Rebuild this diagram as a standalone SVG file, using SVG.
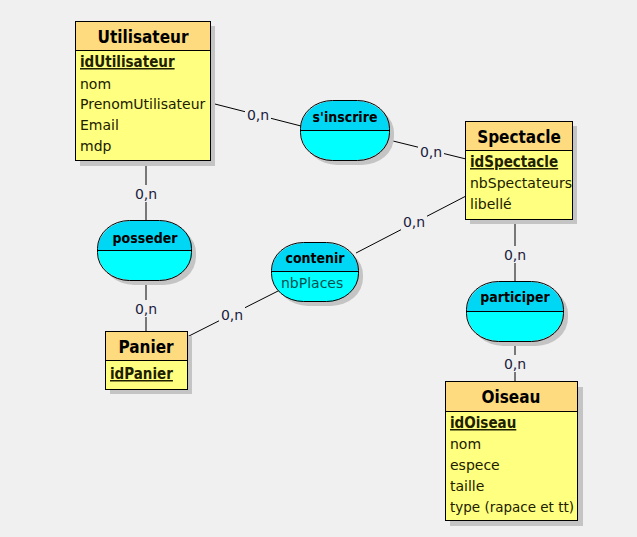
<svg xmlns="http://www.w3.org/2000/svg" width="637" height="537" viewBox="0 0 637 537">
<style>
.bg{fill:#f0f0f0}
.sh{fill:#c4c4c4}
.hd{fill:#ffdb80;stroke:#000;stroke-width:1}
.bd{fill:#ffff80;stroke:#000;stroke-width:1}
.ah{fill:#00d7f5}
.ab{fill:#00ffff}
.ao{fill:none;stroke:#000;stroke-width:1}
.t{font-family:"DejaVu Sans",sans-serif;font-size:14px;fill:#202000}
.tt{font-family:"DejaVu Sans Condensed","DejaVu Sans",sans-serif;font-size:17px;font-weight:bold;fill:#000;text-anchor:middle}
.at2{font-family:"DejaVu Sans Condensed","DejaVu Sans",sans-serif;font-size:14px;font-weight:bold;fill:#000;text-anchor:middle}
.k{font-family:"DejaVu Sans Condensed","DejaVu Sans",sans-serif;font-size:15px;font-weight:bold;text-decoration:underline}
.c{stroke:#000;stroke-width:1;fill:none}
.lb{font-family:"DejaVu Sans",sans-serif;font-size:14px;fill:#1a2040;text-anchor:middle}
</style>
<rect class="bg" x="0" y="0" width="637" height="537"/>
<g id="connectors">
<line class="c" x1="211" y1="103" x2="301" y2="126"/>
<line class="c" x1="389" y1="140" x2="466" y2="159"/>
<line class="c" x1="146" y1="161" x2="146" y2="221"/>
<line class="c" x1="146" y1="280" x2="146" y2="332"/>
<line class="c" x1="187" y1="337" x2="280" y2="290"/>
<line class="c" x1="356" y1="253" x2="466" y2="196"/>
<line class="c" x1="515" y1="219" x2="515" y2="282"/>
<line class="c" x1="515" y1="341" x2="515" y2="382"/>
<g class="labels">
<rect class="bg" x="245" y="106" width="26" height="17"/><text class="lb" x="258" y="120">0,n</text>
<rect class="bg" x="418" y="143" width="26" height="17"/><text class="lb" x="431" y="157">0,n</text>
<rect class="bg" x="133" y="185" width="26" height="17"/><text class="lb" x="146" y="199">0,n</text>
<rect class="bg" x="133" y="300" width="26" height="17"/><text class="lb" x="146" y="314">0,n</text>
<rect class="bg" x="219" y="306" width="26" height="17"/><text class="lb" x="232" y="320">0,n</text>
<rect class="bg" x="401" y="213" width="26" height="17"/><text class="lb" x="414" y="227">0,n</text>
<rect class="bg" x="502" y="246" width="26" height="17"/><text class="lb" x="515" y="260">0,n</text>
<rect class="bg" x="502" y="355" width="26" height="17"/><text class="lb" x="515" y="369">0,n</text>
</g>
</g>
<g id="Utilisateur">
<rect class="sh" x="80" y="26" width="135" height="140"/>
<rect class="bd" x="75.5" y="21.5" width="135" height="139"/>
<rect class="hd" x="75.5" y="21.5" width="135" height="29"/>
<text class="tt" x="143" y="43">Utilisateur</text>
<text class="t k" x="80" y="67">idUtilisateur</text>
<text class="t" x="80" y="89">nom</text>
<text class="t" x="80" y="109">PrenomUtilisateur</text>
<text class="t" x="80" y="130">Email</text>
<text class="t" x="80" y="151">mdp</text>
</g>
<g id="sinscrire">
<rect class="sh" x="305" y="105" width="89" height="60" rx="32" ry="28"/>
<path class="ah" d="M301,131 L301,129 A32,28 0 0 1 333,101 L357,101 A32,28 0 0 1 389,129 L389,131 Z"/>
<path class="ab" d="M301,131 L389,131 L389,132 A32,28 0 0 1 357,160 L333,160 A32,28 0 0 1 301,132 Z"/>
<rect class="ao" x="300.5" y="100.5" width="89" height="60" rx="32" ry="28"/>
<line class="c" x1="300.5" y1="130.5" x2="389.5" y2="130.5"/>
<text class="at2" x="345" y="122">s'inscrire</text>
</g>
<g id="Spectacle">
<rect class="sh" x="470" y="126" width="107" height="98"/>
<rect class="bd" x="465.5" y="121.5" width="107" height="98"/>
<rect class="hd" x="465.5" y="121.5" width="107" height="29"/>
<text class="tt" x="519" y="143">Spectacle</text>
<text class="t k" x="470" y="167">idSpectacle</text>
<text class="t" x="470" y="188">nbSpectateurs</text>
<text class="t" x="470" y="209">libellé</text>
</g>
<g id="posseder">
<rect class="sh" x="102" y="225" width="94" height="60" rx="32" ry="28"/>
<path class="ah" d="M98,251 L98,249 A32,28 0 0 1 130,221 L160,221 A32,28 0 0 1 192,249 L192,251 Z"/>
<path class="ab" d="M98,251 L192,251 L192,252 A32,28 0 0 1 160,280 L130,280 A32,28 0 0 1 98,252 Z"/>
<rect class="ao" x="97.5" y="220.5" width="94" height="60" rx="32" ry="28"/>
<line class="c" x1="97.5" y1="250.5" x2="191.5" y2="250.5"/>
<text class="at2" x="145" y="243">posseder</text>
</g>
<g id="contenir">
<rect class="sh" x="276" y="247" width="87" height="59" rx="32" ry="28"/>
<path class="ah" d="M272,272 L272,271 A32,28 0 0 1 304,243 L326,243 A32,28 0 0 1 358,271 L358,272 Z"/>
<path class="ab" d="M272,272 L358,272 L358,274 A32,28 0 0 1 326,302 L304,302 A32,28 0 0 1 272,274 Z"/>
<rect class="ao" x="271.5" y="242.5" width="87" height="59" rx="32" ry="28"/>
<line class="c" x1="271.5" y1="271.5" x2="358.5" y2="271.5"/>
<text class="at2" x="315" y="263">contenir</text>
<text class="t" x="281" y="288" style="fill:#005050">nbPlaces</text>
</g>
<g id="Panier">
<rect class="sh" x="110" y="336" width="82" height="58"/>
<rect class="bd" x="105.5" y="331.5" width="82" height="58"/>
<rect class="hd" x="105.5" y="331.5" width="82" height="29"/>
<text class="tt" x="146" y="353">Panier</text>
<text class="t k" x="110" y="379">idPanier</text>
</g>
<g id="participer">
<rect class="sh" x="471" y="286" width="97" height="60" rx="32" ry="28"/>
<path class="ah" d="M467,312 L467,310 A32,28 0 0 1 499,282 L531,282 A32,28 0 0 1 563,310 L563,312 Z"/>
<path class="ab" d="M467,312 L563,312 L563,313 A32,28 0 0 1 531,341 L499,341 A32,28 0 0 1 467,313 Z"/>
<rect class="ao" x="466.5" y="281.5" width="97" height="60" rx="32" ry="28"/>
<line class="c" x1="466.5" y1="311.5" x2="563.5" y2="311.5"/>
<text class="at2" x="515" y="302">participer</text>
</g>
<g id="Oiseau">
<rect class="sh" x="450" y="387" width="133" height="139"/>
<rect class="bd" x="445.5" y="381.5" width="132" height="139"/>
<rect class="hd" x="445.5" y="381.5" width="132" height="30"/>
<text class="tt" x="511" y="403">Oiseau</text>
<text class="t k" x="450" y="428">idOiseau</text>
<text class="t" x="450" y="449">nom</text>
<text class="t" x="450" y="470">espece</text>
<text class="t" x="450" y="491">taille</text>
<text class="t" x="450" y="512" textLength="124" lengthAdjust="spacingAndGlyphs">type (rapace et tt)</text>
</g>
</svg>
